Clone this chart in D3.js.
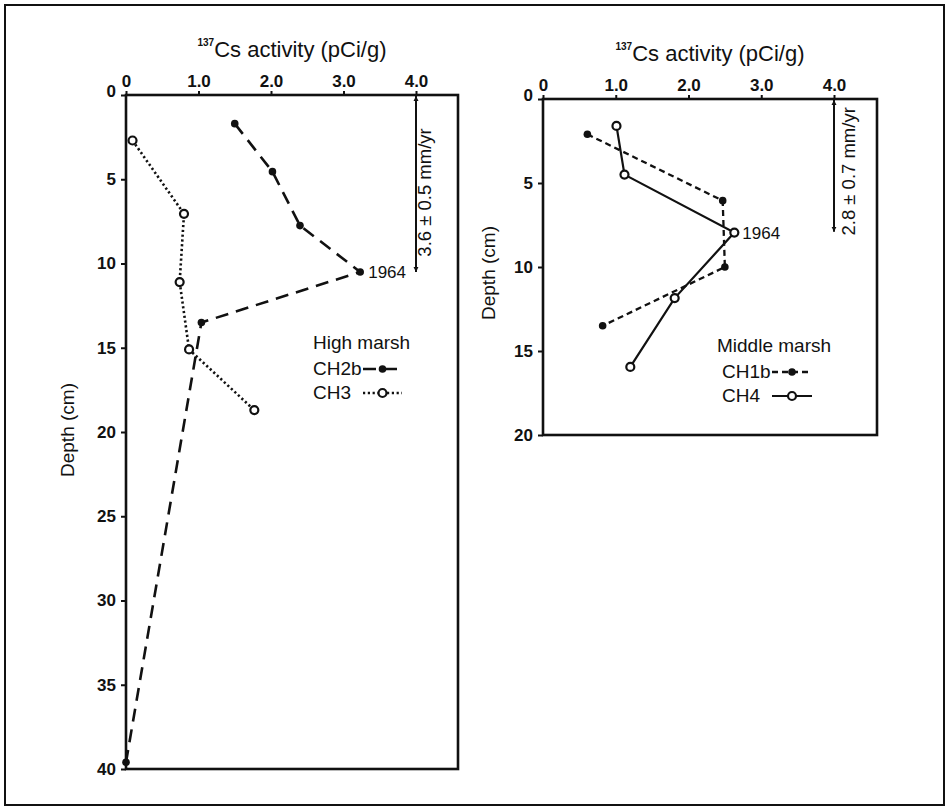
<!DOCTYPE html>
<html>
<head>
<meta charset="utf-8">
<script src="https://cdn.jsdelivr.net/npm/d3@7"></script>
<style>
  html, body { margin: 0; padding: 0; background: #fff; }
  svg { display: block; font-family: "Liberation Sans", Arial, sans-serif; }
</style>
</head>
<body>
<svg id="chart" width="947" height="810"></svg>
<script>
// ---------- data ----------
const xTicks = [0, 1, 2, 3, 4];
const depthTicksHigh = [0, 5, 10, 15, 20, 25, 30, 35, 40];
const depthTicksMid = [0, 5, 10, 15, 20];

// High marsh
const ch2bActivity = [1.5, 2.02, 2.4, 3.23, 1.04, 0.0];
const ch2bDepth    = [1.7, 4.55, 7.75, 10.5, 13.5, 39.6];
const ch3Activity  = [0.09, 0.8, 0.74, 0.87, 1.77];
const ch3Depth     = [2.7, 7.05, 11.1, 15.1, 18.7];

// Middle marsh
const ch1bActivity = [0.61, 2.47, 2.5, 0.82];
const ch1bDepth    = [2.1, 6.05, 10.0, 13.5];
const ch4Activity  = [1.01, 1.12, 2.63, 1.81, 1.2];
const ch4Depth     = [1.6, 4.5, 7.95, 11.85, 15.95];

const peakYear = "1964";
const rateHigh = { activity: 4.0, from: 0, to: 10.5, label: "3.6 \u00B1 0.5 mm/yr" };
const rateMid  = { activity: 4.0, from: 0, to: 7.9,  label: "2.8 \u00B1 0.7 mm/yr" };

// ---------- drawing ----------
const svg = d3.select("#chart");
const defs = svg.append("defs");
defs.append("marker").attr("id", "arrowEnd")
  .attr("viewBox", "0 0 10 10").attr("refX", 10).attr("refY", 5)
  .attr("markerWidth", 5).attr("markerHeight", 7).attr("markerUnits", "userSpaceOnUse")
  .attr("orient", "auto-start-reverse")
  .append("path").attr("d", "M0,0 L10,5 L0,10 Z").attr("fill", "#111");

// outer frame
svg.append("rect").attr("x", 5).attr("y", 5).attr("width", 939).attr("height", 800)
  .attr("fill", "none").attr("stroke", "#111").attr("stroke-width", 2);

const styles = {
  ch2b: { dash: "13,8", width: 2.6, filled: true },
  ch3:  { dash: "2.2,2.6", width: 2.6, filled: false },
  ch1b: { dash: "6,4", width: 2.3, filled: true },
  ch4:  { dash: null, width: 2.2, filled: false }
};

function panel(opt) {
  const x = d3.scaleLinear().domain([0, opt.xMax]).range([opt.left, opt.right]);
  const y = d3.scaleLinear().domain([0, opt.yMax]).range([opt.top, opt.bottom]);
  const g = svg.append("g");

  // axes
  const ax = g.append("g").attr("transform", `translate(0,${opt.top})`)
    .call(d3.axisTop(x).tickValues(xTicks).tickSize(4).tickPadding(4)
      .tickFormat(d => d === 0 ? "0" : d3.format(".1f")(d)));
  const ay = g.append("g").attr("transform", `translate(${opt.left},0)`)
    .call(d3.axisLeft(y).tickValues(opt.yTicks).tickSize(5).tickPadding(5));
  [ax, ay].forEach(a => {
    a.select(".domain").remove();
    a.selectAll(".tick line").attr("stroke", "#111").attr("stroke-width", 2);
    a.selectAll(".tick text").attr("fill", "#111").attr("font-size", 17)
      .attr("font-weight", "bold").attr("font-family", "Liberation Sans, Arial, sans-serif");
  });
  ay.selectAll(".tick").filter(d => d === 0).select("text").attr("dy", "0.1em");

  // box
  g.append("rect").attr("x", opt.left).attr("y", opt.top)
    .attr("width", opt.right - opt.left).attr("height", opt.bottom - opt.top)
    .attr("fill", "none").attr("stroke", "#111").attr("stroke-width", 2.6);

  // title
  const t = g.append("text").attr("x", (opt.left + opt.right) / 2).attr("y", opt.top - 42)
    .attr("text-anchor", "middle").attr("font-size", 22).attr("fill", "#111");
  t.append("tspan").text("137").attr("font-size", 10).attr("font-weight", "bold").attr("dy", "-0.75em");
  t.append("tspan").text("Cs activity (pCi/g)").attr("dy", "0.5em");

  // depth label
  g.append("text").attr("transform", `translate(${opt.depthX},${opt.depthY}) rotate(-90)`)
    .attr("text-anchor", "middle").attr("font-size", 19).attr("fill", "#111").text("Depth (cm)");

  // series
  const line = d3.line().x(d => x(d[0])).y(d => y(d[1]));
  opt.series.forEach(s => {
    const pts = s.a.map((v, i) => [v, s.d[i]]);
    const st = styles[s.key];
    g.append("path").datum(pts).attr("d", line).attr("fill", "none")
      .attr("stroke", "#111").attr("stroke-width", st.width)
      .attr("stroke-dasharray", st.dash);
    g.selectAll(null).data(pts).enter().append("circle")
      .attr("cx", d => x(d[0])).attr("cy", d => y(d[1]))
      .attr("r", st.filled ? 3.8 : 4)
      .attr("fill", st.filled ? "#111" : "#fff")
      .attr("stroke", "#111").attr("stroke-width", st.filled ? 0 : 2.2);
  });

  // 1964 label
  g.append("text").attr("x", x(opt.peak[0]) + 8).attr("y", y(opt.peak[1]) + 6)
    .attr("font-size", 17).attr("fill", "#111").text(peakYear);

  // rate arrow
  const r = opt.rate;
  g.append("line").attr("x1", x(r.activity)).attr("x2", x(r.activity))
    .attr("y1", y(r.from) + 1).attr("y2", y(r.to))
    .attr("stroke", "#111").attr("stroke-width", 2)
    .attr("marker-start", "url(#arrowEnd)").attr("marker-end", "url(#arrowEnd)");
  g.append("text")
    .attr("transform", `translate(${x(r.activity) + opt.rateDx},${(y(r.from) + y(r.to)) / 2 + opt.rateShift}) rotate(-90)`)
    .attr("text-anchor", "middle").attr("font-size", 18.5).attr("fill", "#111").text(r.label);

  // legend
  const L = opt.legend;
  g.append("text").attr("x", L.x).attr("y", L.y).attr("font-size", 19).attr("fill", "#111").text(L.title);
  L.items.forEach((it, i) => {
    const yy = L.y + 26 + i * 24;
    g.append("text").attr("x", L.x + (L.indent || 0)).attr("y", yy).attr("font-size", 19)
      .attr("fill", "#111").text(it.name);
    const st = styles[it.key];
    const cy = yy - 6;
    g.append("line").attr("x1", L.sx0).attr("x2", L.sx1).attr("y1", cy).attr("y2", cy)
      .attr("stroke", "#111").attr("stroke-width", st.width).attr("stroke-dasharray", st.dash);
    g.append("circle").attr("cx", (L.sx0 + L.sx1) / 2).attr("cy", cy).attr("r", st.filled ? 3.8 : 4)
      .attr("fill", st.filled ? "#111" : "#fff").attr("stroke", "#111")
      .attr("stroke-width", st.filled ? 0 : 2.2);
  });
}

panel({
  left: 126, right: 458, top: 95, bottom: 769,
  xMax: 4 * 332 / 290, yMax: 40, yTicks: depthTicksHigh,
  depthX: 74, depthY: 430,
  series: [
    { key: "ch2b", a: ch2bActivity, d: ch2bDepth },
    { key: "ch3", a: ch3Activity, d: ch3Depth }
  ],
  peak: [ch2bActivity[3], ch2bDepth[3]],
  rate: rateHigh, rateShift: 9, rateDx: 15,
  legend: { x: 313, y: 349, title: "High marsh", sx0: 363, sx1: 402,
    items: [{ name: "CH2b", key: "ch2b" }, { name: "CH3", key: "ch3" }] }
});

panel({
  left: 543, right: 877, top: 99, bottom: 435,
  xMax: 4 * 334 / 291, yMax: 20, yTicks: depthTicksMid,
  depthX: 495, depthY: 273,
  series: [
    { key: "ch1b", a: ch1bActivity, d: ch1bDepth },
    { key: "ch4", a: ch4Activity, d: ch4Depth }
  ],
  peak: [ch4Activity[2], ch4Depth[2]],
  rate: rateMid, rateShift: 6, rateDx: 21,
  legend: { x: 717, y: 352, indent: 5, title: "Middle marsh", sx0: 772, sx1: 812,
    items: [{ name: "CH1b", key: "ch1b" }, { name: "CH4", key: "ch4" }] }
});
</script>
</body>
</html>
